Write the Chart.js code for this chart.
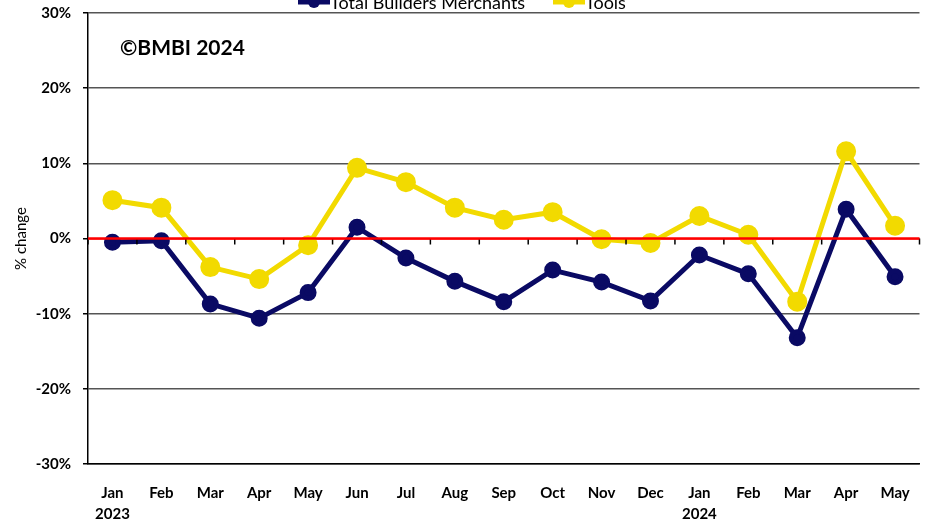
<!DOCTYPE html>
<html>
<head>
<meta charset="utf-8">
<script src="https://cdn.jsdelivr.net/npm/chart.js@4"></script>
<style>
  html, body { margin: 0; padding: 0; background: #fff; }
  #wrap { width: 932px; height: 525px; }
</style>
</head>
<body>
<div id="wrap"><canvas id="bmbiChart" width="932" height="525"></canvas></div>
<script>
const months = ['Jan', 'Feb', 'Mar', 'Apr', 'May', 'Jun', 'Jul', 'Aug', 'Sep', 'Oct', 'Nov', 'Dec', 'Jan', 'Feb', 'Mar', 'Apr', 'May'];
const years = ['2023', '', '', '', '', '', '', '', '', '', '', '', '2024', '', '', '', ''];
const totalBM = [-0.5, -0.3, -8.7, -10.6, -7.2, 1.5, -2.6, -5.7, -8.4, -4.2, -5.8, -8.3, -2.2, -4.7, -13.2, 3.9, -5.1];
const tools = [5.1, 4.1, -3.8, -5.4, -0.9, 9.4, 7.5, 4.1, 2.5, 3.5, -0.1, -0.6, 3.0, 0.5, -8.4, 11.6, 1.7];
const yTicks = [-30, -20, -10, 0, 10, 20, 30];

const NAVY = '#0a0a64';
const YELLOW = '#f2da00';
const FONT = 'Lato, "Open Sans", sans-serif';

// small tick marks along the zero line + copyright + legend at the top
const extras = {
  id: 'extras',
  afterDatasetsDraw(chart) {
    const ctx = chart.ctx;
    const x = chart.scales.x;
    const y = chart.scales.y;
    const y0 = y.getPixelForValue(0);
    ctx.save();
    ctx.strokeStyle = '#000';
    ctx.lineWidth = 1.5;
    for (let i = 0; i <= months.length; i++) {
      const px = x.getPixelForValue(i - 0.5);
      ctx.beginPath();
      ctx.moveTo(px, y0);
      ctx.lineTo(px, y0 + 6);
      ctx.stroke();
    }
    // zero line on top
    ctx.strokeStyle = '#ff0000';
    ctx.lineWidth = 2.5;
    ctx.beginPath();
    ctx.moveTo(chart.chartArea.left, y0);
    ctx.lineTo(chart.chartArea.right, y0);
    ctx.stroke();

    ctx.fillStyle = '#000';
    ctx.font = 'bold 21px ' + FONT;
    ctx.textBaseline = 'middle';
    ctx.fillText('\u00a9BMBI 2024', 120, 48);

    // legend, cut off by the top edge like the original
    const items = [
      { label: 'Total Builders Merchants', color: NAVY, x: 298 },
      { label: 'Tools', color: YELLOW, x: 553 }
    ];
    ctx.font = '18px ' + FONT;
    items.forEach(it => {
      ctx.strokeStyle = it.color;
      ctx.lineWidth = 5;
      ctx.beginPath();
      ctx.moveTo(it.x, 2);
      ctx.lineTo(it.x + 32, 2);
      ctx.stroke();
      ctx.fillStyle = it.color;
      ctx.beginPath();
      ctx.arc(it.x + 16, 2, 6, 0, Math.PI * 2);
      ctx.fill();
      ctx.fillStyle = '#000';
      ctx.fillText(it.label, it.x + 32, 3);
    });
    ctx.restore();
  }
};

new Chart(document.getElementById('bmbiChart'), {
  type: 'line',
  data: {
    labels: months.map((m, i) => years[i] ? [m, years[i]] : m),
    datasets: [
      { label: 'Total Builders Merchants', data: totalBM, borderColor: NAVY, backgroundColor: NAVY,
        borderWidth: 5, pointRadius: 6, pointHoverRadius: 6, tension: 0 },
      { label: 'Tools', data: tools, borderColor: YELLOW, backgroundColor: YELLOW,
        borderWidth: 5, pointRadius: 7.5, pointHoverRadius: 7.5, tension: 0 }
    ]
  },
  options: {
    responsive: false,
    animation: false,
    layout: { padding: { top: 13, right: 12, left: 12, bottom: 0 } },
    plugins: {
      legend: { display: false },
      tooltip: { enabled: false }
    },
    scales: {
      x: {
        offset: true,
        grid: { display: false },
        border: { display: true, color: '#000', width: 1.5 },
        ticks: {
          color: '#000',
          font: { family: FONT, size: 15, weight: 'bold', lineHeight: 1.45 },
          padding: 10,
          maxRotation: 0,
          autoSkip: false
        },
        afterFit(scale) { scale.height = 61; }
      },
      y: {
        min: -30,
        max: 30,
        afterBuildTicks(scale) { scale.ticks = yTicks.map(v => ({ value: v })); },
        grid: {
          color: ctx => ctx.tick && ctx.tick.value === 0 ? '#ff0000' : '#555',
          lineWidth: 1.5,
          tickLength: 5,
          tickColor: '#000'
        },
        border: { display: true, color: '#000', width: 1.5 },
        ticks: {
          color: '#000',
          font: { family: FONT, size: 15, weight: 'bold' },
          padding: 12,
          callback: v => v + '%'
        },
        title: {
          display: true,
          text: '% change',
          color: '#000',
          font: { family: FONT, size: 15 },
          padding: { top: 0, bottom: 4 }
        },
        afterFit(scale) {
          scale.width = 76;
          scale.paddingTop = 0;
          scale.paddingBottom = 0;
        }
      }
    }
  },
  plugins: [extras]
});
</script>
</body>
</html>
